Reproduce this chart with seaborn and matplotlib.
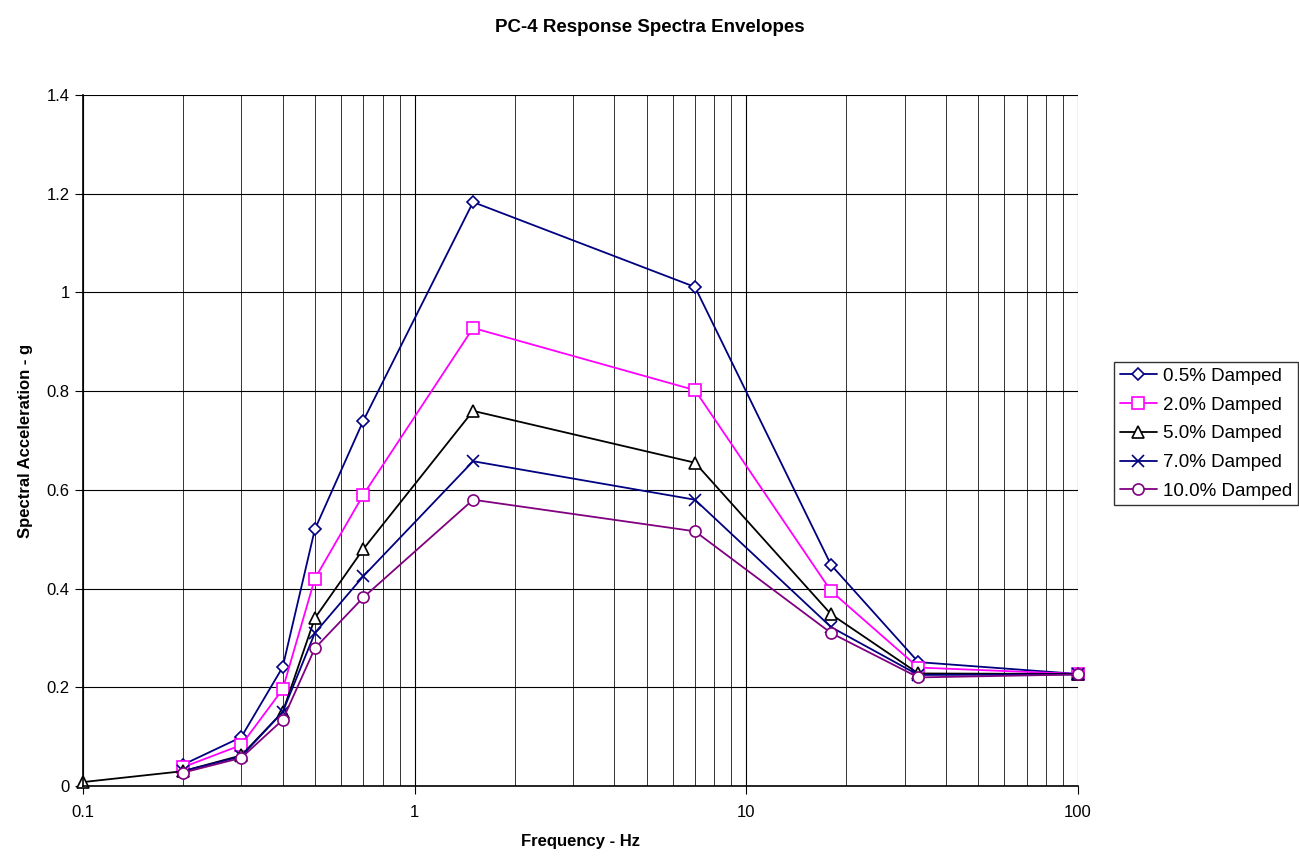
import matplotlib
matplotlib.use("Agg")
import matplotlib.pyplot as plt
import seaborn as sns
import numpy as np
from matplotlib.ticker import FuncFormatter, LogLocator, MultipleLocator

freq = [0.2, 0.3, 0.4, 0.5, 0.7, 1.5, 7, 18, 33, 100]
freq5 = [0.1, 0.2, 0.3, 0.4, 0.5, 0.7, 1.5, 7, 18, 33, 100]

d05 = [0.043, 0.099, 0.241, 0.52, 0.74, 1.183, 1.011, 0.448, 0.251, 0.227]
d20 = [0.038, 0.083, 0.196, 0.42, 0.59, 0.928, 0.802, 0.395, 0.240, 0.227]
d50 = [0.008, 0.030, 0.062, 0.150, 0.340, 0.480, 0.760, 0.655, 0.348, 0.228, 0.227]
d70 = [0.030, 0.060, 0.150, 0.310, 0.425, 0.658, 0.580, 0.322, 0.225, 0.226]
d100 = [0.027, 0.057, 0.134, 0.279, 0.382, 0.580, 0.516, 0.310, 0.220, 0.226]

labels = ["0.5% Damped", "2.0% Damped", "5.0% Damped", "7.0% Damped", "10.0% Damped"]
colors = ["#000080", "#FF00FF", "#000000", "#000080", "#800080"]
markers = ["D", "s", "^", "x", "o"]
msizes = [6.5, 8, 8, 8, 8]

sns.set_style("white")
plt.rcParams['font.family'] = ['Liberation Sans', 'DejaVu Sans']
plt.rcParams['text.color'] = 'black'
plt.rcParams['axes.labelcolor'] = 'black'
plt.rcParams['xtick.color'] = 'black'
plt.rcParams['ytick.color'] = 'black'

fig = plt.figure(figsize=(12.99, 8.58), dpi=100)
ax = fig.add_axes([0.0639, 0.0839, 0.7660, 0.8054])

series = [(freq, d05), (freq, d20), (freq5, d50), (freq, d70), (freq, d100)]
for (xs, ys), lab, c, m, ms in zip(series, labels, colors, markers, msizes):
    sns.lineplot(x=xs, y=ys, ax=ax, color=c, marker=m, markersize=ms,
                 markerfacecolor="white" if m != "x" else c, markeredgecolor=c,
                 markeredgewidth=1.2, linewidth=1.3, label=lab, sort=False,
                 clip_on=False)

ax.set_xscale("log")
ax.set_xlim(0.1, 100)
ax.set_ylim(0, 1.4)
ax.yaxis.set_major_locator(MultipleLocator(0.2))
ax.xaxis.set_major_locator(LogLocator(base=10))
ax.xaxis.set_minor_locator(LogLocator(base=10, subs=np.arange(2, 10)))
ax.xaxis.set_major_formatter(FuncFormatter(lambda v, p: f"{v:g}"))
ax.yaxis.set_major_formatter(FuncFormatter(lambda v, p: f"{v:.1f}".rstrip("0").rstrip(".") if v != 0 else "0"))
ax.xaxis.set_minor_formatter(FuncFormatter(lambda v, p: ""))

ax.grid(True, which="major", axis="both", color="black", linewidth=0.8)
ax.grid(True, which="minor", axis="x", color="#333333", linewidth=0.7)
ax.set_axisbelow(True)

for s in ["top", "right"]:
    ax.spines[s].set_visible(False)
for s in ["left", "bottom"]:
    ax.spines[s].set_color("black")
    ax.spines[s].set_linewidth(1.2)

ax.tick_params(axis="y", which="major", direction="out", length=6, color="black", labelcolor="black", labelsize=12, left=True)
ax.tick_params(axis="x", which="major", direction="out", length=6, color="black", labelcolor="black", labelsize=12, bottom=True, pad=8)
ax.tick_params(axis="x", which="minor", length=0)

ax.set_xlabel("Frequency - Hz", fontsize=12, fontweight="bold", labelpad=10, color="black")
ax.set_ylabel("Spectral Acceleration - g", fontsize=12, fontweight="bold", labelpad=10, color="black")
fig.suptitle("PC-4 Response Spectra Envelopes", fontsize=13.5, fontweight="bold", x=0.5, y=0.978, color="black")

ax.legend_.remove()
handles, labs = ax.get_legend_handles_labels()
leg = fig.legend(handles, labs, loc="upper left", bbox_to_anchor=(0.8575, 0.578),
                 fontsize=13.5, frameon=True, fancybox=False, edgecolor="black",
                 borderpad=0.3, labelspacing=0.62, handlelength=2.0, handletextpad=0.3,
                 borderaxespad=0, labelcolor="black")
leg.get_frame().set_linewidth(1.0)

fig.savefig("out.png", dpi=100, facecolor="white")
